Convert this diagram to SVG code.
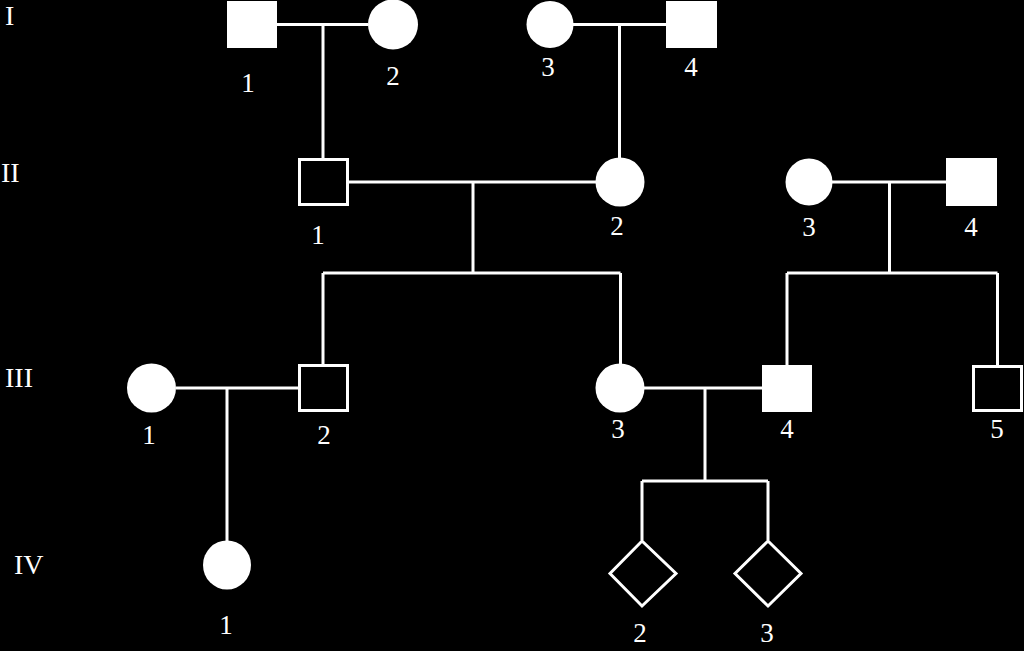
<svg xmlns="http://www.w3.org/2000/svg" width="1024" height="651" viewBox="0 0 1024 651">
<style>
.bg{fill:#000}
.ln{stroke:#fff;stroke-width:3;fill:none}
.fill{fill:#fff}
.open{fill:#000;stroke:#fff;stroke-width:3}
text{font-family:"Liberation Serif","Times New Roman",serif;fill:#fff;font-size:27px;text-anchor:middle}
.gen{text-anchor:start;font-size:28px}
</style>
<rect class="bg" x="0" y="0" width="1024" height="651"/>
<g id="generations">
<text class="gen" x="5" y="25">I</text>
<text class="gen" x="1" y="182">II</text>
<text class="gen" x="5" y="387">III</text>
<text class="gen" x="14" y="574">IV</text>
</g>
<g id="connectors">
<path class="ln" d="M277 24.5H368M323 24.5V158"/>
<path class="ln" d="M573 24.5H666M619.5 24.5V158"/>
<path class="ln" d="M349 182H596M473 182V273M323 273H620.5M323 273V364M620.5 273V364"/>
<path class="ln" d="M832 182H946M889.5 182V273M787 273H997.5M787 273V365M997.5 273V365"/>
<path class="ln" d="M176 388H298M227 388V541"/>
<path class="ln" d="M644 388H762M705 388V481M642 481H768M642 481V540M768 481V540"/>
</g>
<g id="I-1"><rect class="fill" x="227" y="1" width="50" height="47"/><text x="248" y="92">1</text></g>
<g id="I-2"><circle class="fill" cx="393" cy="24.5" r="25"/><text x="393" y="85">2</text></g>
<g id="I-3"><circle class="fill" cx="550" cy="24.5" r="23.5"/><text x="548" y="76">3</text></g>
<g id="I-4"><rect class="fill" x="666" y="1" width="51" height="47"/><text x="691" y="76">4</text></g>
<g id="II-1"><rect class="open" x="299.5" y="159.5" width="48" height="45"/><text x="318" y="244">1</text></g>
<g id="II-2"><circle class="fill" cx="620" cy="182" r="24.5"/><text x="617" y="235">2</text></g>
<g id="II-3"><circle class="fill" cx="809" cy="182" r="23.5"/><text x="809" y="236">3</text></g>
<g id="II-4"><rect class="fill" x="946" y="158" width="51" height="48"/><text x="971" y="236">4</text></g>
<g id="III-1"><circle class="fill" cx="151.5" cy="388" r="24.5"/><text x="149" y="444">1</text></g>
<g id="III-2"><rect class="open" x="299.5" y="365.5" width="48" height="45"/><text x="324" y="444">2</text></g>
<g id="III-3"><circle class="fill" cx="620" cy="388" r="24.5"/><text x="618" y="438">3</text></g>
<g id="III-4"><rect class="fill" x="762" y="365" width="50" height="47"/><text x="787" y="438">4</text></g>
<g id="III-5"><rect class="open" x="973.5" y="366.5" width="48" height="44"/><text x="997" y="438">5</text></g>
<g id="IV-1"><ellipse class="fill" cx="227" cy="565" rx="24" ry="24.5"/><text x="226" y="634">1</text></g>
<g id="IV-2"><polygon class="open" points="642,541 676,573.5 642,606 610,573.5"/><text x="640" y="642">2</text></g>
<g id="IV-3"><polygon class="open" points="768,541 801,573.5 768,606 735,573.5"/><text x="767" y="642">3</text></g>
</svg>
